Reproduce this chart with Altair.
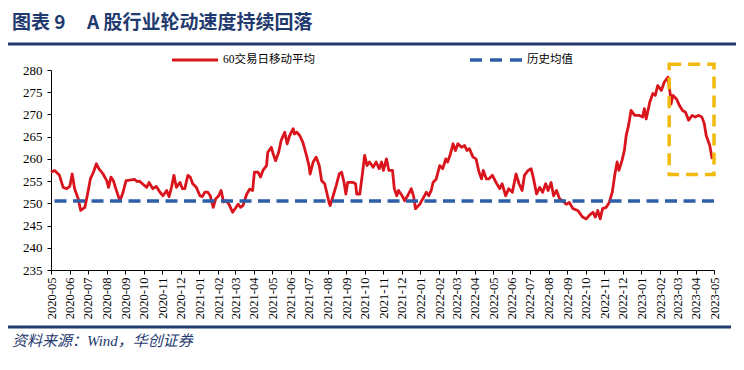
import altair as alt
import pandas as pd

# ---------------- data ----------------
dates = [
    "2020-05-01", "2020-05-07", "2020-05-15", "2020-05-21", "2020-05-27", "2020-06-01", "2020-06-05", "2020-06-09",
    "2020-06-15", "2020-06-19", "2020-06-26", "2020-07-01", "2020-07-05", "2020-07-10", "2020-07-15", "2020-07-19",
    "2020-07-26", "2020-08-01", "2020-08-04", "2020-08-08", "2020-08-12", "2020-08-16", "2020-08-20", "2020-08-23",
    "2020-08-28", "2020-09-02", "2020-09-08", "2020-09-16", "2020-09-20", "2020-09-24", "2020-09-29", "2020-10-06",
    "2020-10-10", "2020-10-16", "2020-10-22", "2020-10-28", "2020-11-02", "2020-11-08", "2020-11-12", "2020-11-16",
    "2020-11-20", "2020-11-24", "2020-11-30", "2020-12-04", "2020-12-08", "2020-12-13", "2020-12-17", "2020-12-21",
    "2020-12-27", "2021-01-02", "2021-01-06", "2021-01-10", "2021-01-15", "2021-01-19", "2021-01-24", "2021-01-28",
    "2021-02-02", "2021-02-06", "2021-02-10", "2021-02-15", "2021-02-20", "2021-02-25", "2021-03-01", "2021-03-06",
    "2021-03-10", "2021-03-14", "2021-03-20", "2021-03-25", "2021-03-30", "2021-04-02", "2021-04-08", "2021-04-12",
    "2021-04-16", "2021-04-22", "2021-04-24", "2021-04-30", "2021-05-03", "2021-05-07", "2021-05-12", "2021-05-16",
    "2021-05-22", "2021-05-26", "2021-05-30", "2021-06-05", "2021-06-07", "2021-06-11", "2021-06-16", "2021-06-21",
    "2021-06-27", "2021-07-01", "2021-07-03", "2021-07-08", "2021-07-13", "2021-07-18", "2021-07-22", "2021-07-27",
    "2021-07-31", "2021-08-03", "2021-08-05", "2021-08-10", "2021-08-15", "2021-08-20", "2021-08-24", "2021-08-28",
    "2021-08-31", "2021-09-03", "2021-09-12", "2021-09-16", "2021-09-18", "2021-09-23", "2021-09-27", "2021-10-01",
    "2021-10-05", "2021-10-09", "2021-10-15", "2021-10-20", "2021-10-25", "2021-10-29", "2021-11-01", "2021-11-06",
    "2021-11-10", "2021-11-16", "2021-11-19", "2021-11-23", "2021-11-26", "2021-12-02", "2021-12-06", "2021-12-11",
    "2021-12-17", "2021-12-21", "2021-12-24", "2021-12-31", "2022-01-05", "2022-01-11", "2022-01-15", "2022-01-19",
    "2022-01-22", "2022-01-27", "2022-02-02", "2022-02-07", "2022-02-12", "2022-02-15", "2022-02-19", "2022-02-24",
    "2022-02-28", "2022-03-04", "2022-03-10", "2022-03-15", "2022-03-19", "2022-03-23", "2022-03-29", "2022-04-03",
    "2022-04-08", "2022-04-12", "2022-04-15", "2022-04-20", "2022-04-24", "2022-04-30", "2022-05-06", "2022-05-12",
    "2022-05-16", "2022-05-22", "2022-05-27", "2022-06-02", "2022-06-08", "2022-06-13", "2022-06-18", "2022-06-22",
    "2022-06-28", "2022-07-03", "2022-07-07", "2022-07-12", "2022-07-17", "2022-07-22", "2022-07-27", "2022-07-31",
    "2022-08-05", "2022-08-09", "2022-08-14", "2022-08-19", "2022-08-24", "2022-08-30", "2022-09-04", "2022-09-10",
    "2022-09-18", "2022-09-26", "2022-10-02", "2022-10-07", "2022-10-13", "2022-10-17", "2022-10-21", "2022-10-25",
    "2022-10-29", "2022-11-04", "2022-11-09", "2022-11-14", "2022-11-18", "2022-11-22", "2022-11-25", "2022-11-30",
    "2022-12-04", "2022-12-07", "2022-12-11", "2022-12-15", "2022-12-21", "2022-12-28", "2023-01-03", "2023-01-06",
    "2023-01-09", "2023-01-15", "2023-01-20", "2023-01-24", "2023-01-28", "2023-02-03", "2023-02-08", "2023-02-14",
    "2023-02-18", "2023-02-19", "2023-02-22", "2023-02-28", "2023-03-05", "2023-03-10", "2023-03-15", "2023-03-20",
    "2023-03-26", "2023-03-31", "2023-04-06", "2023-04-11", "2023-04-15", "2023-04-18", "2023-04-24", "2023-04-28",
]
values = [
    257.0, 257.4, 256.3, 253.6, 253.3, 253.8, 256.6, 253.3,
    251.0, 248.4, 249.1, 252.5, 255.5, 257.0, 258.9, 257.8,
    256.6, 255.1, 253.6, 255.9, 255.1, 253.3, 251.7, 250.6,
    252.5, 255.1, 255.2, 255.4, 254.9, 255.0, 254.4, 253.6,
    254.7, 253.3, 253.8, 252.5, 251.7, 252.9, 251.5, 253.6,
    256.3, 253.6, 254.7, 253.3, 253.3, 256.3, 255.9, 254.4,
    253.6, 251.7, 251.5, 252.5, 252.5, 251.7, 249.1, 251.0,
    251.7, 252.9, 250.3, 250.6, 249.5, 248.0, 248.8, 249.8,
    249.1, 249.5, 252.0, 253.2, 252.9, 257.0, 257.0, 255.9,
    257.4, 258.5, 261.5, 262.6, 261.1, 259.6, 261.5, 264.1,
    266.0, 263.4, 265.2, 266.8, 265.6, 266.0, 265.2, 263.7,
    260.8, 258.5, 256.6, 259.3, 260.4, 258.5, 255.1, 254.4,
    252.1, 250.3, 249.5, 251.7, 254.0, 256.6, 257.0, 254.7,
    252.1, 254.7, 254.7, 254.4, 252.1, 252.1, 256.3, 260.8,
    258.5, 259.3, 258.1, 259.3, 257.8, 259.3, 257.4, 260.0,
    257.4, 257.4, 253.3, 251.7, 252.9, 251.7, 250.6, 251.7,
    253.3, 251.5, 248.8, 249.8, 251.0, 252.5, 251.7, 252.9,
    254.7, 255.4, 258.5, 257.8, 260.0, 259.3, 260.8, 263.4,
    261.9, 263.4, 262.6, 263.0, 261.9, 262.3, 260.4, 260.0,
    257.0, 255.5, 257.4, 255.5, 255.5, 256.3, 254.7, 253.3,
    254.4, 251.7, 253.3, 252.5, 256.6, 254.4, 252.9, 256.3,
    257.4, 257.8, 255.5, 252.1, 253.6, 252.5, 254.4, 252.9,
    254.7, 251.7, 252.9, 251.0, 250.6, 249.8, 250.2, 248.8,
    248.4, 246.9, 246.5, 247.3, 248.0, 246.9, 248.4, 246.5,
    248.8, 249.1, 250.2, 252.5, 256.3, 259.3, 257.4, 259.6,
    261.9, 265.3, 267.6, 270.9, 269.8, 269.8, 269.4, 271.3,
    269.0, 272.8, 274.7, 274.3, 276.5, 275.4, 277.3, 278.4,
    274.3, 272.3, 274.3, 273.5, 272.0, 270.9, 270.5, 268.7,
    269.8, 269.4, 269.8, 269.4, 267.9, 265.3, 263.0, 260.0,
]
hist_mean = 250.5  # 历史均值

tick_months = [
    "2020-05", "2020-06", "2020-07", "2020-08", "2020-09", "2020-10", "2020-11", "2020-12",
    "2021-01", "2021-02", "2021-03", "2021-04", "2021-05", "2021-06", "2021-07", "2021-08",
    "2021-09", "2021-10", "2021-11", "2021-12", "2022-01", "2022-02", "2022-03", "2022-04",
    "2022-05", "2022-06", "2022-07", "2022-08", "2022-09", "2022-10", "2022-11", "2022-12",
    "2023-01", "2023-02", "2023-03", "2023-04", "2023-05",
]
y_ticks = [235, 240, 245, 250, 255, 260, 265, 270, 275, 280]

box_dates = ["2023-02-16", "2023-05-01"]
box_values = [256.5, 281.3]

title_left = "图表 9"
title_right = "A 股行业轮动速度持续回落"
legend_labels = ["60交易日移动平均", "历史均值"]
source_text = "资料来源：Wind，华创证券"

# ---------------- styles ----------------
RED = "#D9141C"
BLUE = "#2E5EA8"
GOLD = "#F2B90F"
NAVY = "#1F3A6E"
SERIF = "'Liberation Serif', 'Noto Sans CJK SC', serif"
CJK = "'Noto Sans CJK SC', sans-serif"

W, H = 663, 200


def dt(s):
    y, m = int(s[:4]), int(s[5:7])
    d = int(s[8:10]) if len(s) > 7 else 1
    return alt.DateTime(year=y, month=m, date=d, utc=True)


x_scale = alt.Scale(domain=[dt(tick_months[0]), dt(tick_months[-1])], nice=False)
y_scale = alt.Scale(domain=[y_ticks[0], y_ticks[-1]], nice=False, zero=False)

x_axis = alt.Axis(values=[dt(m) for m in tick_months],
                  labelExpr="utcFormat(datum.value, '%Y-%m')",
                  labelAngle=-90, labelFont=SERIF, labelFontSize=12.5,
                  labelColor="#000", tickColor="#000", domainColor="#000",
                  tickSize=4, labelPadding=3, grid=False, labelOverlap=False,
                  labelBound=False, labelFlush=False)
y_axis = alt.Axis(values=y_ticks, labelFont=SERIF, labelFontSize=13,
                  labelColor="#000", tickColor="#000", domainColor="#000",
                  tickSize=4, labelPadding=5, grid=False, labelOverlap=False,
                  labelBound=False, labelFlush=False)


def X(field):
    return alt.X(field, scale=x_scale, axis=x_axis, title=None)


def Y(field):
    return alt.Y(field, scale=y_scale, axis=y_axis, title=None)


df = pd.DataFrame({"date": dates, "value": values})

line = alt.Chart(df).mark_line(color=RED, strokeWidth=2.8, strokeJoin="round").encode(
    x=X("date:T"), y=Y("value:Q"))

mean_rule = alt.Chart(pd.DataFrame({"value": [hist_mean]})).mark_rule(
    color=BLUE, strokeWidth=3.5, strokeDash=[12, 6.5]
).encode(y=Y("value:Q"))

box = alt.Chart(pd.DataFrame({
    "date": [box_dates[0]], "date2": [box_dates[1]],
    "value": [box_values[0]], "value2": [box_values[1]],
})).mark_rect(fill="transparent", stroke=GOLD, strokeWidth=3.5, strokeDash=[12, 7]).encode(
    x=X("date:T"), x2="date2:T", y=Y("value:Q"), y2="value2:Q",
)

one = pd.DataFrame({"k": [0]})


def txt(text, x, y, size, color="#000", font=CJK, weight="normal", style="normal"):
    return alt.Chart(one).mark_text(
        text=text, align="left", baseline="middle", fontSize=size, color=color,
        font=font, fontWeight=weight, fontStyle=style,
    ).encode(x=alt.value(x), y=alt.value(y))


def hrule(x1, x2, y, color, width, dash=None):
    kw = dict(color=color, strokeWidth=width)
    if dash:
        kw["strokeDash"] = dash
    return alt.Chart(one).mark_rule(**kw).encode(
        x=alt.value(x1), x2=alt.value(x2), y=alt.value(y))


decor = [
    txt(title_left, -39, -47, 19, NAVY, CJK, "bold"),
    txt(title_right, 36, -47, 19, NAVY, CJK, "bold"),
    hrule(-43, 685, -26, NAVY, 3),
    hrule(121, 167, -10, RED, 3),
    txt(legend_labels[0], 172, -10, 11.5, "#000", SERIF),
    hrule(419, 472, -10, BLUE, 3.5, [12, 8]),
    txt(legend_labels[1], 476, -10, 11.5, "#000", SERIF),
    hrule(-43, 680, 257, NAVY, 3),
    txt(source_text, -39, 271, 15, NAVY, SERIF, "normal", "italic"),
]

chart = alt.layer(line, mean_rule, box, *decor).properties(
    width=W, height=H,
    autosize=alt.AutoSizeParams(type="none"),
    padding={"left": 43, "top": 62, "right": 22, "bottom": 92},
    background="white",
).configure_view(stroke=None).configure_axis(labelOverlap=False)

chart.save("out.html", embed_options={"renderer": "svg", "actions": False})
